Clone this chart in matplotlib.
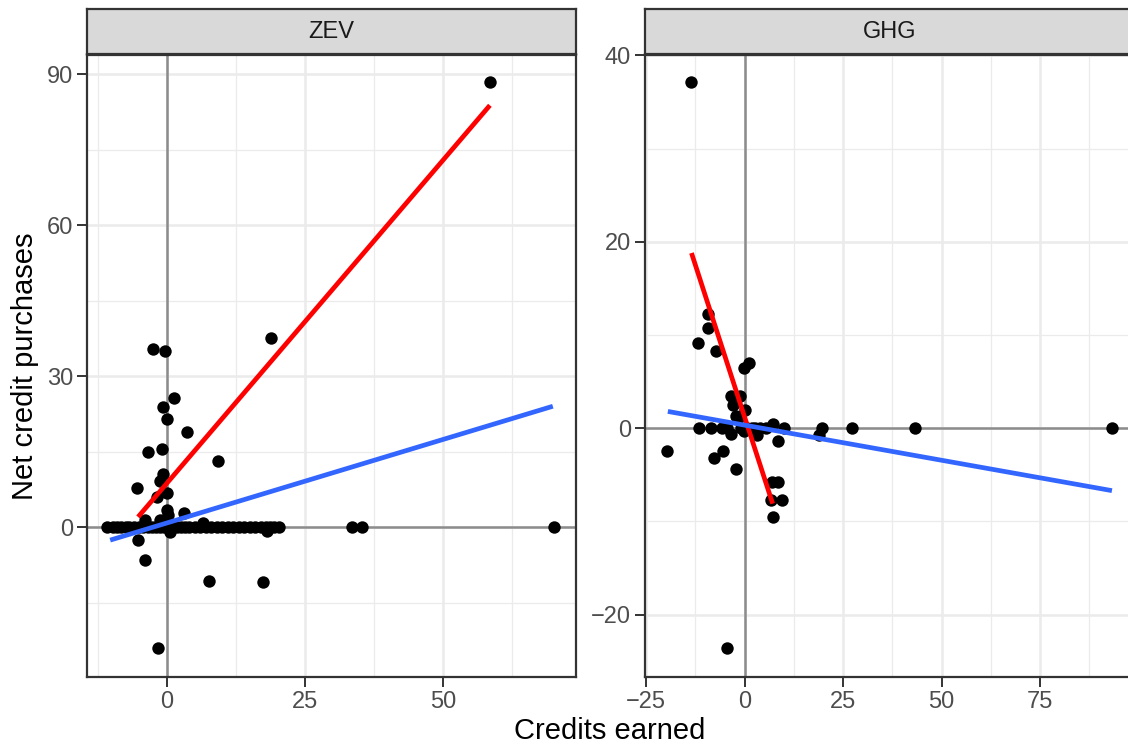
import matplotlib.pyplot as plt
from matplotlib.ticker import MultipleLocator

plt.rcParams['font.family'] = ['Liberation Sans', 'DejaVu Sans']

# ZEV panel: points
zev_x = [-2.5, -0.4, 18.8, 58.5, 1.3, -0.8, 0.05, 3.6, -3.5, -1.0, 9.3, -0.8,
         -1.3, -5.4, 0.05, -1.9, 0.0, 0.1, 3.1, -4.0, -1.3, 6.6, -5.2, -4.0,
         7.6, 17.3, -1.6, 0.5, 18.2]
zev_y = [35.3, 35.0, 37.5, 88.4, 25.6, 23.8, 21.4, 18.9, 15.0, 15.5, 13.2, 10.5,
         9.1, 7.8, 6.7, 6.0, 3.4, 2.4, 2.7, 1.4, 1.4, 0.9, -2.6, -6.6,
         -10.7, -11.0, -24.0, -0.9, -0.7]
zev_zero_x = [-10.9, -9.8, -9.0, -8.3, -7.5, -6.8, -6.0, -5.0, -4.3, -3.5, -2.7,
              -2.0, -1.2, -0.5, 0.3, 1.0, 1.8, 2.5, 3.3, 4.0, 5.0, 6.0, 7.0, 8.0,
              9.0, 10.0, 11.0, 12.0, 13.0, 14.0, 15.0, 16.0, 17.0, 18.0, 18.7,
              19.4, 20.3, 33.5, 35.3, 70.1]

# GHG panel
ghg_x = [-13.6, -9.2, -9.4, -11.9, -7.3, -0.2, 1.2, -3.6, -1.2, -3.0, 0.1, -1.6,
         -2.2, -19.6, -7.8, -5.6, -2.3, 7.0, 8.5, 6.7, 9.5, 7.1, -4.4, 8.4,
         18.9, -3.6, 3.0, 7.3, -0.2]
ghg_y = [37.1, 12.3, 10.7, 9.1, 8.3, 6.5, 7.0, 3.5, 3.5, 2.5, 2.0, 1.1,
         1.3, -2.5, -3.2, -2.5, -4.4, -5.8, -5.8, -7.7, -7.7, -9.5, -23.6, -1.4,
         -0.7, -0.6, -0.7, 0.5, -0.3]
ghg_zero_x = [-11.5, -8.6, -5.8, -4.5, -1.0, 0.5, 1.8, 2.6, 4.0, 5.5, 10.0,
              19.5, 27.3, 43.2, 93.2]

# fitted lines (end points)
zev_red_x, zev_red_y = [-5.25, 58.5], [2.0, 83.8]
zev_blue_x, zev_blue_y = [-10.3, 69.9], [-2.6, 24.0]
ghg_red_x, ghg_red_y = [-13.5, 7.1], [18.8, -8.1]
ghg_blue_x, ghg_blue_y = [-19.5, 93.2], [1.8, -6.7]

W, H = 1128, 747
fig = plt.figure(figsize=(W / 100, H / 100), dpi=100)

border = '#333333'
panels = [
    dict(name='ZEV', left=87, x=zev_x, y=zev_y, zx=zev_zero_x,
         rx=zev_red_x, ry=zev_red_y, bx=zev_blue_x, by=zev_blue_y,
         xlim=(-14.5, 74.1), ylim=(-29.8, 93.8), xmaj=25, ymaj=30),
    dict(name='GHG', left=645, x=ghg_x, y=ghg_y, zx=ghg_zero_x,
         rx=ghg_red_x, ry=ghg_red_y, bx=ghg_blue_x, by=ghg_blue_y,
         xlim=(-25.3, 98.8), ylim=(-26.7, 40.05), xmaj=25, ymaj=20),
]

pw, top, bot = 489, 55, 677
for p in panels:
    ax = fig.add_axes([p['left'] / W, (H - bot) / H, pw / W, (bot - top) / H])
    ax.set_xlim(*p['xlim'])
    ax.set_ylim(*p['ylim'])
    ax.xaxis.set_major_locator(MultipleLocator(p['xmaj']))
    ax.xaxis.set_minor_locator(MultipleLocator(p['xmaj'] / 2))
    ax.yaxis.set_major_locator(MultipleLocator(p['ymaj']))
    ax.yaxis.set_minor_locator(MultipleLocator(p['ymaj'] / 2))
    ax.grid(which='major', color='#EBEBEB', linewidth=1.8, zorder=0)
    ax.grid(which='minor', color='#EBEBEB', linewidth=0.9, zorder=0)
    ax.set_axisbelow(True)
    ax.tick_params(which='major', length=7, width=1.4, color=border,
                   labelsize=17, labelcolor='#4D4D4D', pad=3)
    ax.tick_params(which='minor', length=0)
    for s in ax.spines.values():
        s.set_color(border)
        s.set_linewidth(1.6)

    ax.axhline(0, color='#8C8C8C', linewidth=1.8, zorder=1)
    ax.axvline(0, color='#8C8C8C', linewidth=1.8, zorder=1)
    ax.scatter(p['x'], p['y'], s=80, color='black', linewidths=0, zorder=3)
    ax.scatter(p['zx'], [0] * len(p['zx']), s=80, color='black',
               linewidths=0, zorder=3)
    ax.plot(p['rx'], p['ry'], color='#FF0000', linewidth=3.4,
            solid_capstyle='butt', zorder=4)
    ax.plot(p['bx'], p['by'], color='#3366FF', linewidth=3.4,
            solid_capstyle='butt', zorder=4)

    # facet strip
    sax = fig.add_axes([p['left'] / W, (H - 54) / H, pw / W, 45 / H])
    sax.set_facecolor('#D9D9D9')
    sax.set_xticks([])
    sax.set_yticks([])
    for s in sax.spines.values():
        s.set_color(border)
        s.set_linewidth(1.6)
    sax.text(0.5, 0.5, p['name'], ha='center', va='center', fontsize=17,
             color='#1A1A1A', transform=sax.transAxes)

fig.text(610 / W, 1 - 731 / H, 'Credits earned', ha='center', va='center',
         fontsize=21)
fig.text(25 / W, 1 - 366 / H, 'Net credit purchases', ha='center',
         va='center', rotation=90, fontsize=21)

fig.savefig('out.png', dpi=100)
